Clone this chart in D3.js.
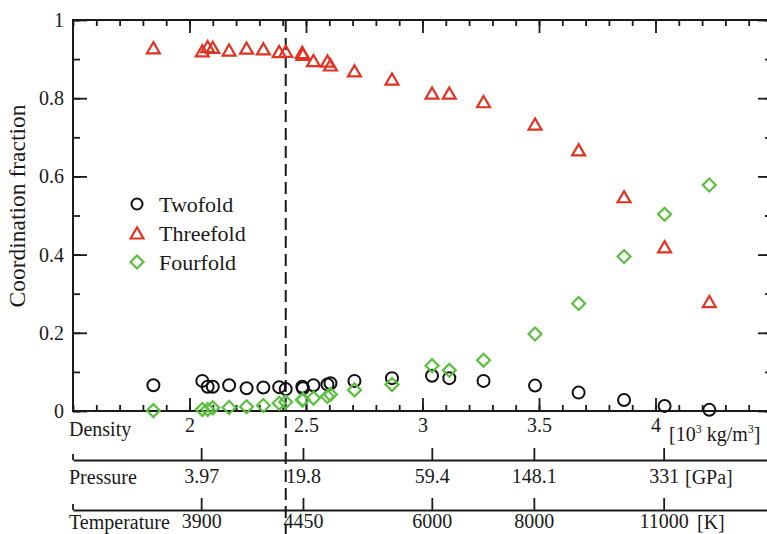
<!DOCTYPE html>
<html>
<head>
<meta charset="utf-8">
<script src="https://cdn.jsdelivr.net/npm/d3@7"></script>
<style>
  body { margin: 0; background: #fff; }
  svg text { font-family: "Liberation Serif", "DejaVu Serif", serif; fill: #1a1a1a; }
</style>
</head>
<body>
<div id="chart"></div>
<script>

// densities of the simulated states [10^3 kg/m^3]
let density = [1.845, 2.055, 2.078, 2.100, 2.170, 2.245, 2.317, 2.385, 2.413, 2.484, 2.487,
  2.532, 2.592, 2.605, 2.708, 2.869, 3.041, 3.115, 3.262, 3.483, 3.670, 3.865, 4.039, 4.231];

let twofold = [0.066, 0.077, 0.062, 0.062, 0.066, 0.058, 0.060, 0.061, 0.056, 0.062, 0.058,
  0.066, 0.068, 0.071, 0.077, 0.084, 0.090, 0.084, 0.077, 0.065, 0.047, 0.028, 0.013, 0.003];

let threefold = [0.929, 0.921, 0.932, 0.930, 0.923, 0.928, 0.926, 0.919, 0.920, 0.917, 0.912,
  0.896, 0.895, 0.885, 0.870, 0.849, 0.813, 0.813, 0.791, 0.734, 0.668, 0.548, 0.420, 0.280];

let fourfold = [0.001, 0.004, 0.004, 0.008, 0.009, 0.011, 0.014, 0.020, 0.023, 0.028, 0.029,
  0.033, 0.037, 0.042, 0.054, 0.068, 0.116, 0.104, 0.130, 0.197, 0.275, 0.395, 0.503, 0.578];

let densityTicks = [2, 2.5, 3, 3.5, 4];
let yTicks = [0, 0.2, 0.4, 0.6, 0.8, 1];

// pressure / temperature of some states, placed at their density
let stateDensity = [2.05, 2.487, 3.04, 3.478, 4.035];
let pressureLabels = ["3.97", "19.8", "59.4", "148.1", "331"];
let temperatureLabels = ["3900", "4450", "6000", "8000", "11000"];

let markerDensity = 2.413;

let width = 767, height = 534;

let svg = d3.select("#chart").append("svg")
  .attr("width", width)
  .attr("height", height);

let x = d3.scaleLinear().domain([1.5, 4.5]).range([73, 772]);
let y = d3.scaleLinear().domain([0, 1]).range([411, 20]);

let minorX = d3.range(15, 46).map(d => d / 10);
let minorY = d3.range(0, 11).map(d => d / 10);

// frame
svg.append("rect")
  .attr("x", x(1.5)).attr("y", y(1))
  .attr("width", x(4.5) - x(1.5)).attr("height", y(0) - y(1))
  .attr("fill", "none").attr("stroke", "#1a1a1a").attr("stroke-width", 2);

function ticksOnly(g) {
  g.select(".domain").remove();
  g.selectAll("line").attr("stroke", "#1a1a1a").attr("stroke-width", 1.8);
}

// bottom axis
svg.append("g").attr("transform", "translate(0," + y(0) + ")")
  .call(d3.axisBottom(x).tickValues(minorX).tickSize(-6).tickFormat(""))
  .call(ticksOnly);
svg.append("g").attr("transform", "translate(0," + y(0) + ")")
  .call(d3.axisBottom(x).tickValues(densityTicks).tickSize(-13).tickPadding(7)
    .tickFormat(d3.format("")))
  .call(ticksOnly)
  .call(g => g.selectAll("text").attr("font-size", 20).attr("fill", "#1a1a1a"));

// top axis
svg.append("g").attr("transform", "translate(0," + y(1) + ")")
  .call(d3.axisTop(x).tickValues(minorX).tickSize(-6).tickFormat(""))
  .call(ticksOnly);
svg.append("g").attr("transform", "translate(0," + y(1) + ")")
  .call(d3.axisTop(x).tickValues(densityTicks).tickSize(-13).tickFormat(""))
  .call(ticksOnly);

// left axis
svg.append("g").attr("transform", "translate(" + x(1.5) + ",0)")
  .call(d3.axisLeft(y).tickValues(minorY).tickSize(-7).tickFormat(""))
  .call(ticksOnly);
svg.append("g").attr("transform", "translate(" + x(1.5) + ",0)")
  .call(d3.axisLeft(y).tickValues(yTicks).tickSize(-14).tickPadding(9)
    .tickFormat(d3.format("")))
  .call(ticksOnly)
  .call(g => g.selectAll("text").attr("font-size", 20).attr("fill", "#1a1a1a"));

// right axis
svg.append("g").attr("transform", "translate(" + x(4.5) + ",0)")
  .call(d3.axisRight(y).tickValues(minorY).tickSize(-7).tickFormat(""))
  .call(ticksOnly);
svg.append("g").attr("transform", "translate(" + x(4.5) + ",0)")
  .call(d3.axisRight(y).tickValues(yTicks).tickSize(-14).tickFormat(""))
  .call(ticksOnly);

// y label
svg.append("text")
  .attr("transform", "translate(25,206) rotate(-90)")
  .attr("text-anchor", "middle")
  .attr("font-size", 23.5)
  .text("Coordination fraction");

// density axis captions
svg.append("text").attr("x", 69).attr("y", 436).attr("font-size", 20).text("Density");
let unit = svg.append("text").attr("x", 669).attr("y", 441).attr("font-size", 20);
unit.append("tspan").text("[10");
unit.append("tspan").attr("font-size", 12).attr("dy", -8).text("3");
unit.append("tspan").attr("dy", 8).text(" kg/m");
unit.append("tspan").attr("font-size", 12).attr("dy", -8).text("3");
unit.append("tspan").attr("dy", 8).text("]");

// extra scales for pressure and temperature
function extraAxis(yPos, labels, name, unitText, unitX, pad) {
  let g = svg.append("g").attr("transform", "translate(0," + yPos + ")");
  g.call(d3.axisBottom(x).tickValues(stateDensity).tickSizeInner(-12).tickSizeOuter(0)
      .tickPadding(pad).tickFormat((d, i) => labels[i]));
  g.select(".domain").attr("stroke", "#1a1a1a").attr("stroke-width", 1.8);
  g.selectAll("line").attr("stroke", "#1a1a1a").attr("stroke-width", 1.8);
  g.selectAll("text").attr("font-size", 20).attr("fill", "#1a1a1a");
  g.append("line").attr("x1", x(1.5)).attr("x2", x(1.5)).attr("y1", 0).attr("y2", -6)
    .attr("stroke", "#1a1a1a").attr("stroke-width", 1.8);
  svg.append("text").attr("x", 69).attr("y", yPos + pad + 15).attr("font-size", 20).text(name);
  svg.append("text").attr("x", unitX).attr("y", yPos + pad + 15).attr("font-size", 20).text(unitText);
}
extraAxis(460, pressureLabels, "Pressure", "[GPa]", 685, 9);
extraAxis(510, temperatureLabels, "Temperature", "[K]", 697, 3.5);

// dashed marker line
svg.append("line")
  .attr("x1", x(markerDensity)).attr("x2", x(markerDensity))
  .attr("y1", y(1)).attr("y2", height)
  .attr("stroke", "#1a1a1a").attr("stroke-width", 2)
  .attr("stroke-dasharray", "12,6");

// data points
let red = "#e23222", green = "#5cbf3f";
let triangle = d3.symbol().type(d3.symbolTriangle).size(72);
let diamond = d3.symbol().type(d3.symbolSquare).size(84);
let triShift = 1.8; // d3 centres triangles on the centroid, values were read at box centre

svg.append("g").selectAll("circle").data(density).enter()
  .append("circle")
  .attr("cx", d => x(d))
  .attr("cy", (d, i) => y(twofold[i]))
  .attr("r", 6)
  .attr("fill", "none").attr("stroke", "#111").attr("stroke-width", 2);

svg.append("g").selectAll("path").data(density).enter()
  .append("path")
  .attr("d", triangle)
  .attr("transform", (d, i) => "translate(" + x(d) + "," + (y(threefold[i]) + triShift) + ")")
  .attr("fill", "none").attr("stroke", red).attr("stroke-width", 2.2);

svg.append("g").selectAll("path").data(density).enter()
  .append("path")
  .attr("d", diamond)
  .attr("transform", (d, i) => "translate(" + x(d) + "," + y(fourfold[i]) + ") rotate(45)")
  .attr("fill", "none").attr("stroke", green).attr("stroke-width", 2.2);

// legend
let legendItems = ["Twofold", "Threefold", "Fourfold"];
let legend = svg.append("g");
legendItems.forEach(function(name, i) {
  let ly = 204 + i * 29;
  if (i == 0) {
    legend.append("circle").attr("cx", 137).attr("cy", ly).attr("r", 5.5)
      .attr("fill", "none").attr("stroke", "#111").attr("stroke-width", 2);
  } else if (i == 1) {
    legend.append("path").attr("d", triangle).attr("transform", "translate(137," + (ly + triShift) + ")")
      .attr("fill", "none").attr("stroke", red).attr("stroke-width", 2.2);
  } else {
    legend.append("path").attr("d", diamond).attr("transform", "translate(137," + ly + ") rotate(45)")
      .attr("fill", "none").attr("stroke", green).attr("stroke-width", 2.2);
  }
  legend.append("text").attr("x", 159).attr("y", ly + 8).attr("font-size", 22).text(name);
});

</script>
</body>
</html>
